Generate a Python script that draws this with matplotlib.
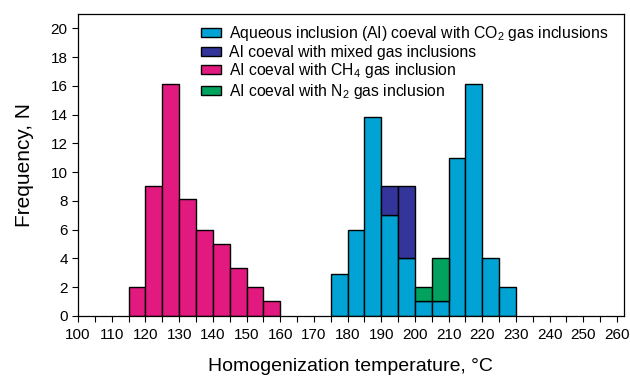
import numpy as np
import matplotlib
matplotlib.use('Agg')
import matplotlib.pyplot as plt
from matplotlib.ticker import MultipleLocator

plt.rcParams['font.family'] = ['Liberation Sans', 'DejaVu Sans']
plt.rcParams['mathtext.fontset'] = 'custom'
plt.rcParams['mathtext.rm'] = 'Liberation Sans'
plt.rcParams['mathtext.it'] = 'Liberation Sans:italic'

# bin left edges (5 degree bins)
ch4_bins = [115, 120, 125, 130, 135, 140, 145, 150, 155]
ch4_counts = [2, 9, 16.1, 8.1, 6, 5, 3.3, 2, 1]

co2_bins = [175, 180, 185, 190, 195, 200, 205, 210, 215, 220, 225]
co2_counts = [2.9, 6, 13.8, 7, 4, 1, 1, 11, 16.1, 4, 2]

mixed_bins = [190, 195]
mixed_counts = [2, 5]      # stacked on CO2 bars

n2_bins = [200, 205]
n2_counts = [1, 3]         # stacked on CO2 bars

labels = ['Aqueous inclusion (AI) coeval with CO$_2$ gas inclusions',
          'AI coeval with mixed gas inclusions',
          'AI coeval with CH$_4$ gas inclusion',
          'AI coeval with N$_2$ gas inclusion']
colors = ['#00A3D3', '#34359A', '#E2197F', '#00A25E']

co2_lookup = dict(zip(co2_bins, co2_counts))

fig = plt.figure(figsize=(6.3, 3.76), dpi=100)
ax = fig.add_axes([0.124, 0.160, 0.866, 0.803])

w = 5
kw = dict(width=w, align='edge', edgecolor='black', linewidth=1.0)
h1 = ax.bar(co2_bins, co2_counts, color=colors[0], **kw)
h2 = ax.bar(mixed_bins, mixed_counts, bottom=[co2_lookup[b] for b in mixed_bins],
            color=colors[1], **kw)
h3 = ax.bar(ch4_bins, ch4_counts, color=colors[2], **kw)
h4 = ax.bar(n2_bins, n2_counts, bottom=[co2_lookup[b] for b in n2_bins],
            color=colors[3], **kw)

ax.set_xlim(100, 262)
ax.set_ylim(0, 21)
ax.xaxis.set_major_locator(MultipleLocator(10))
ax.xaxis.set_minor_locator(MultipleLocator(5))
ax.yaxis.set_major_locator(MultipleLocator(2))
ax.tick_params(axis='both', which='major', labelsize=11, length=4, width=0.8)
ax.tick_params(axis='x', which='minor', length=4, width=0.8)
ax.tick_params(axis='x', which='major', pad=5)
for s in ax.spines.values():
    s.set_linewidth(0.9)

ax.set_xlabel('Homogenization temperature, °C', fontsize=14, labelpad=11)
ax.set_ylabel('Frequency, N', fontsize=15, labelpad=12)

ax.legend([h1, h2, h3, h4], labels, loc='upper left',
          bbox_to_anchor=(0.309, 0.952), bbox_transform=fig.transFigure,
          frameon=False, fontsize=11.3, handlelength=1.3, handleheight=0.5,
          handletextpad=0.5, labelspacing=0.1, borderaxespad=0)

fig.savefig('out.png', dpi=100)
